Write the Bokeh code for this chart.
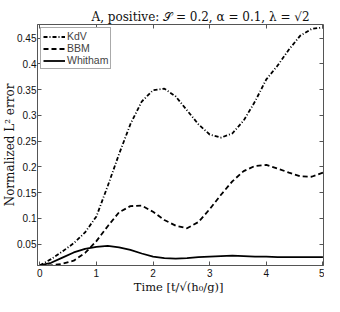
from bokeh.plotting import figure
from bokeh.models import Range1d, FixedTicker, LinearAxis, Legend, LegendItem
from bokeh.embed import file_html
from bokeh.resources import INLINE

# ---- data ----
t = [0.0, 0.2, 0.4, 0.6, 0.8, 1.0, 1.2, 1.4, 1.6, 1.8, 2.0, 2.2, 2.4,
     2.6, 2.8, 3.0, 3.2, 3.4, 3.6, 3.8, 4.0, 4.2, 4.4, 4.6, 4.8, 5.0]
kdv = [0.009, 0.021, 0.036, 0.052, 0.073, 0.104, 0.163, 0.225, 0.283, 0.327,
       0.349, 0.352, 0.337, 0.310, 0.283, 0.263, 0.257, 0.265, 0.290, 0.327,
       0.370, 0.397, 0.428, 0.455, 0.468, 0.471]
bbm = [0.009, 0.009, 0.012, 0.018, 0.033, 0.056, 0.085, 0.112, 0.124, 0.125,
       0.113, 0.097, 0.086, 0.081, 0.093, 0.118, 0.146, 0.172, 0.192, 0.202,
       0.204, 0.197, 0.189, 0.182, 0.181, 0.189]
whitham = [0.009, 0.014, 0.024, 0.034, 0.041, 0.045, 0.047, 0.044, 0.039, 0.032,
           0.026, 0.023, 0.022, 0.023, 0.025, 0.026, 0.027, 0.028, 0.027, 0.026,
           0.026, 0.025, 0.025, 0.025, 0.025, 0.025]
series_names = ["KdV", "BBM", "Whitham"]

x_ticks = [0, 1, 2, 3, 4, 5]
x_tick_labels = ["0", "1", "2", "3", "4", "5"]
y_ticks = [0.05, 0.1, 0.15, 0.2, 0.25, 0.3, 0.35, 0.4, 0.45]
y_tick_labels = ["0.05", "0.1", "0.15", "0.2", "0.25", "0.3", "0.35", "0.4", "0.45"]

title_text = "A, positive: \U0001D4AE = 0.2,  \u03b1 = 0.1,  \u03bb = \u221a2"
x_label = "Time  [t/\u221a(h\u2080/g)]"
y_label = "Normalized L\u00b2 error"

AX = "#555555"
SANS = "Liberation Sans"
SERIF = "DejaVu Serif"

p = figure(width=324, height=296, output_backend="svg", toolbar_location=None,
           x_range=Range1d(-0.04, 5.01), y_range=Range1d(0.0087, 0.4766),
           min_border_left=30, min_border_right=1, min_border_top=24,
           min_border_bottom=28, title=title_text)
p.grid.visible = False
p.outline_line_color = AX
p.outline_line_width = 1
p.background_fill_color = "white"
p.border_fill_color = "white"

p.title.align = "left"
p.title.offset = 54
p.title.standoff = 1
p.title.text_font = SERIF
p.title.text_font_size = "12px"
p.title.text_font_style = "normal"
p.title.text_color = "#111111"


def style_axis(ax, ticks, labels, show_labels=True):
    ax.ticker = FixedTicker(ticks=ticks)
    ax.major_tick_in = 4
    ax.major_tick_out = 0
    ax.minor_tick_line_color = None
    ax.major_tick_line_color = AX
    ax.axis_line_color = AX
    if show_labels:
        ax.major_label_overrides = {tk: lb for tk, lb in zip(ticks, labels)}
        ax.major_label_text_font = SANS
        ax.major_label_text_font_size = "10px"
        ax.major_label_text_color = "#111111"
    else:
        ax.major_label_text_font_size = "1px"
        ax.major_label_text_color = None
        ax.major_label_standoff = 0
        ax.axis_line_color = None


xa = p.xaxis[0]
ya = p.yaxis[0]
style_axis(xa, x_ticks, x_tick_labels)
style_axis(ya, y_ticks, y_tick_labels)
xa.major_label_standoff = 3
ya.major_label_standoff = 1

xa.axis_label = x_label
xa.axis_label_text_font = SERIF
xa.axis_label_text_font_size = "11.5px"
xa.axis_label_text_font_style = "normal"
xa.axis_label_standoff = 0
xa.axis_label_text_color = "#111111"

ya.axis_label = y_label
ya.axis_label_text_font = SERIF
ya.axis_label_text_font_size = "12px"
ya.axis_label_text_font_style = "normal"
ya.axis_label_standoff = -3
ya.axis_label_text_color = "#111111"

ra = LinearAxis()
style_axis(ra, y_ticks, y_tick_labels, show_labels=False)
p.add_layout(ra, "right")
ta = LinearAxis()
style_axis(ta, x_ticks, x_tick_labels, show_labels=False)
p.add_layout(ta, "above")

r1 = p.line(t, kdv, line_color="black", line_width=1.8, line_dash="4 2 1 2")
r2 = p.line(t, bbm, line_color="black", line_width=1.8, line_dash="5 3")
r3 = p.line(t, whitham, line_color="black", line_width=1.8)

legend = Legend(items=[LegendItem(label=n, renderers=[r])
                       for n, r in zip(series_names, [r1, r2, r3])],
                location="top_left")
legend.margin = 3
legend.padding = 2
legend.spacing = 0
legend.label_standoff = 2
legend.glyph_width = 22
legend.glyph_height = 11
legend.label_height = 11
legend.label_text_font = SANS
legend.label_text_font_size = "10.5px"
legend.label_text_baseline = "middle"
legend.border_line_color = AX
legend.border_line_width = 1
legend.background_fill_alpha = 1
p.add_layout(legend, "center")

open("out.html", "w").write(file_html(p, INLINE))
